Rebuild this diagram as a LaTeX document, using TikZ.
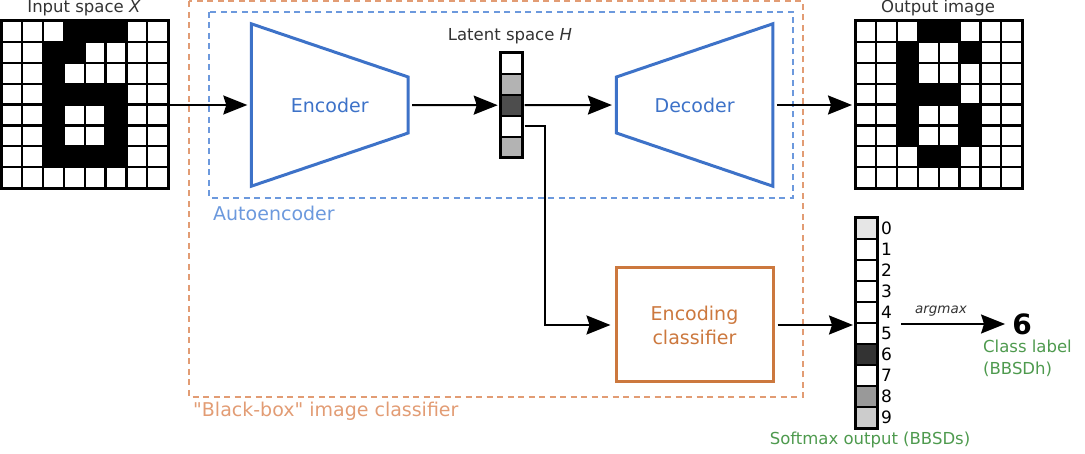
\documentclass[tikz,border=0pt]{standalone}
\usepackage{fontspec}
\setmainfont{DejaVu Sans}
\newfontfamily\plainquotefont{DejaVu Sans}
\usetikzlibrary{arrows.meta}
\definecolor{encblue}{HTML}{3D72C8}
\definecolor{aeblue}{HTML}{6C99DD}
\definecolor{clsor}{HTML}{CC783E}
\definecolor{bbor}{HTML}{E29C74}
\definecolor{lblgreen}{HTML}{4E9A4E}
\definecolor{txtgray}{HTML}{333333}
\definecolor{gA}{HTML}{B3B3B3}
\definecolor{gB}{HTML}{4D4D4D}
\definecolor{sm0}{HTML}{E6E6E6}
\definecolor{sm6}{HTML}{333333}
\definecolor{sm8}{HTML}{999999}
\definecolor{sm9}{HTML}{CCCCCC}
\newcommand{\cs}{20.9}
\tikzset{
  arr/.style={line width=2pt, -{Stealth[length=24pt,width=19pt,inset=3pt]}},
  gridline/.style={line width=2.2pt},
  frame/.style={draw, line width=3pt, inner sep=0pt, outer sep=0pt},
  trap/.style={draw=encblue, line width=3pt, line join=miter},
  aedash/.style={draw=aeblue, line width=2pt, dash pattern=on 6pt off 4.5pt},
  bbdash/.style={draw=bbor, line width=2pt, dash pattern=on 6pt off 4.5pt},
  toplabel/.style={text=txtgray, font=\fontsize{16.5}{19}\selectfont},
  boxtext/.style={font=\fontsize{19}{24}\selectfont},
  digit/.style={anchor=west, inner sep=0pt, font=\fontsize{17}{19}\selectfont},
  greentext/.style={text=lblgreen, font=\fontsize{16.5}{22}\selectfont},
}
\newcommand{\digitgrid}[4]{%
  \foreach \r/\c in {#4} \fill[black] (#2+\c*\cs, #3+\r*\cs) rectangle ++(\cs,\cs);
  \foreach \i in {1,...,7} {
    \draw[gridline] (#2+\i*\cs,#3) -- ++(0,8*\cs);
    \draw[gridline] (#2,#3+\i*\cs) -- ++(8*\cs,0);
  }
  \node[frame, minimum width=8*\cs pt, minimum height=8*\cs pt, anchor=north west] (#1) at (#2,#3) {};
}
\begin{document}
\begin{tikzpicture}[x=1pt, y=-1pt]
\useasboundingbox (0,0) rectangle (1085,454);

% dashed containers
\draw[bbdash] (189,1.5) rectangle (803,397);
\node[anchor=west, text=bbor, font=\plainquotefont\fontsize{19}{22}\selectfont, inner sep=0pt] (bblabel) at (193,411) {"Black-box" image classifier};
\draw[aedash] (209,12) rectangle (793,198);
\node[anchor=west, text=aeblue, font=\fontsize{19}{22}\selectfont, inner sep=0pt] (aelabel) at (213,213) {Autoencoder};

% input and output images
\digitgrid{inimg}{1}{21}{0/3,0/4,0/5,1/2,1/3,2/2,3/2,3/3,3/4,3/5,4/2,4/5,5/2,5/5,6/2,6/3,6/4,6/5}
\node[toplabel] (inlabel) at (84,8) {Input space \textit{X}};
\digitgrid{outimg}{855}{21}{0/3,0/4,1/2,1/5,2/2,3/2,3/3,3/4,4/2,4/5,5/2,5/5,6/3,6/4}
\node[toplabel] (outlabel) at (938,8) {Output image};

% encoder / decoder
\node[minimum width=156.5pt, minimum height=162pt, inner sep=0pt, text=encblue, boxtext] (enc) at (329.75,105) {Encoder};
\draw[trap] (enc.north west) -- ([yshift=28pt]enc.east) -- ([yshift=-28pt]enc.east) -- (enc.south west) -- cycle;
\node[minimum width=156pt, minimum height=162pt, inner sep=0pt, text=encblue, boxtext] (dec) at (694.6,105) {Decoder};
\draw[trap] ([yshift=28pt]dec.west) -- (dec.north east) -- (dec.south east) -- ([yshift=-28pt]dec.west) -- cycle;

% latent vector
\foreach \k/\col in {0/white,1/gA,2/gB,3/white,4/gA}
  \fill[\col] (500.7,52.7+\k*21) rectangle ++(22,21);
\foreach \k in {1,...,4} \draw[gridline] (500.7,52.7+\k*21) -- ++(22,0);
\node[frame, minimum width=22pt, minimum height=105pt] (lat) at (511.7,105.2) {};
\node[toplabel] (latlabel) at (510,36) {Latent space \textit{H}};

% classifier
\node[draw=clsor, line width=3pt, minimum width=157pt, minimum height=114pt, inner sep=0pt, align=center, text=clsor, boxtext] (cls) at (694.5,325) {Encoding\\classifier};

% softmax vector
\foreach \k/\col in {0/sm0,1/white,2/white,3/white,4/white,5/white,6/sm6,7/white,8/sm8,9/sm9}
  \fill[\col] (855,218+\k*21) rectangle ++(22,21);
\foreach \k in {1,...,9} \draw[gridline] (855,218+\k*21) -- ++(22,0);
\node[frame, minimum width=22pt, minimum height=210pt] (sm) at (866,323) {};
\foreach \k in {0,...,9}
  \node[digit] (n\k) at (881,228.5+\k*21) {\k};
\node[greentext] (smlabel) at (870,440) {Softmax output (BBSDs)};

% class label
\node[inner sep=0pt, font=\bfseries\fontsize{28}{30}\selectfont] (six) at (1022,324) {6};
\node[greentext, anchor=west, align=left, inner sep=0pt] (cllabel) at (983,358) {Class label\\(BBSDh)};

% connectors
\draw[arr, shorten <=2pt, shorten >=4pt] (inimg.east |- enc.west) -- (enc.west);
\draw[arr, shorten <=4pt, shorten >=3pt] (enc.east) -- (lat.west);
\draw[arr, shorten <=2pt, shorten >=4.5pt] (lat.east) -- (dec.west);
\draw[arr, shorten <=4pt, shorten >=3pt] (dec.east) -- (outimg.west |- dec.east);
\draw[arr, shorten <=2pt, shorten >=4pt] ([yshift=-21pt]lat.east) -- ++(22,0) |- (cls.west);
\draw[arr, shorten <=3pt, shorten >=2pt] (cls.east) -- (sm.west |- cls.east);
\draw[arr, shorten >=7pt] ([xshift=24pt]sm.east |- six.west) -- (six.west)
  node[pos=0.36, above=3pt, text=txtgray, font=\itshape\fontsize{13.5}{15}\selectfont] (am) {argmax};
\end{tikzpicture}
\end{document}
